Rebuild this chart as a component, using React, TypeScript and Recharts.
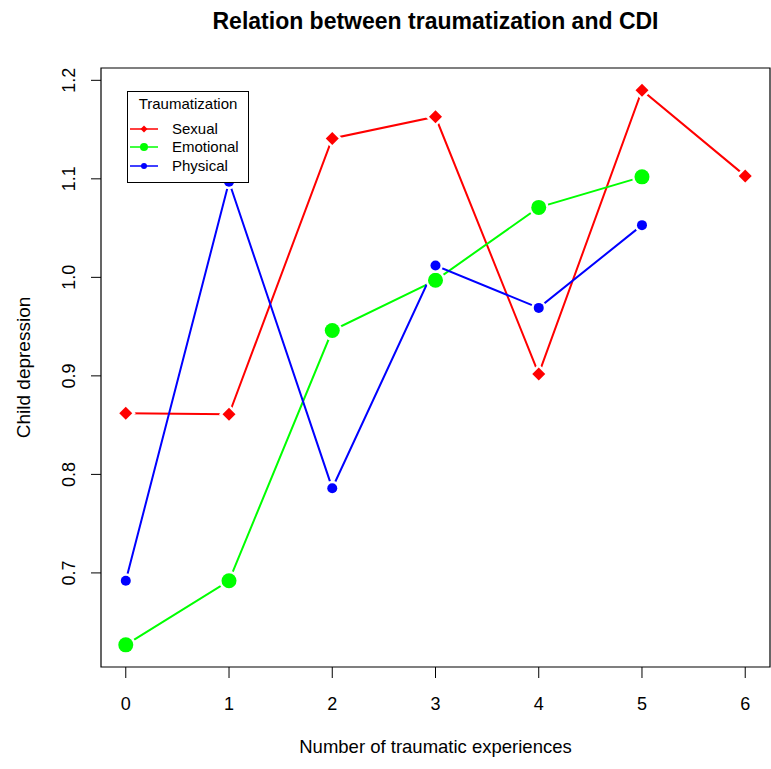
import React from 'react'
import { LineChart, Line, XAxis, YAxis, ReferenceArea, Legend } from 'recharts'

const experiences = [0, 1, 2, 3, 4, 5, 6]
const sexual = [0.862, 0.861, 1.141, 1.163, 0.902, 1.19, 1.103]
const emotional = [0.627, 0.692, 0.946, 0.997, 1.071, 1.102]
const physical = [0.692, 1.097, 0.786, 1.012, 0.969, 1.053]
const yTicks = [0.7, 0.8, 0.9, 1.0, 1.1, 1.2]

const data = experiences.map((x, i) => ({
  x,
  sexual: sexual[i],
  emotional: emotional[i],
  physical: physical[i],
}))

const FONT = '"Liberation Sans", Arial, Helvetica, sans-serif'
const RED = '#ff0000'
const GREEN = '#00ff00'
const BLUE = '#0000ff'

// eslint-disable-next-line @typescript-eslint/no-explicit-any
const diamond = (r: number, color: string) => (p: any) => {
  if (p.cx == null || p.cy == null || p.value == null) return <g key={p.key} />
  const { cx, cy } = p
  return (
    <path
      key={p.key}
      d={`M${cx},${cy - r} L${cx + r},${cy} L${cx},${cy + r} L${cx - r},${cy} Z`}
      fill={color}
      stroke="#fff"
      strokeWidth={5}
      paintOrder="stroke"
    />
  )
}

// eslint-disable-next-line @typescript-eslint/no-explicit-any
const circle = (r: number, color: string) => (p: any) => {
  if (p.cx == null || p.cy == null || p.value == null) return <g key={p.key} />
  return (
    <circle key={p.key} cx={p.cx} cy={p.cy} r={r} fill={color} stroke="#fff" strokeWidth={5} paintOrder="stroke" />
  )
}

// eslint-disable-next-line @typescript-eslint/no-explicit-any
const YTick = (p: any) => (
  <text
    x={p.x - 14}
    y={p.y}
    transform={`rotate(-90, ${p.x - 14}, ${p.y})`}
    textAnchor="middle"
    fontSize={18}
    fontFamily={FONT}
    fill="#000"
  >
    {p.payload.value.toFixed(1)}
  </text>
)

// eslint-disable-next-line @typescript-eslint/no-explicit-any
const XTick = (p: any) => (
  <text x={p.x} y={p.y + 30} textAnchor="middle" fontSize={18} fontFamily={FONT} fill="#000">
    {p.payload.value}
  </text>
)

const legendItems = [
  { name: 'Sexual', color: RED, marker: 'diamond', r: 3.5 },
  { name: 'Emotional', color: GREEN, marker: 'circle', r: 4 },
  { name: 'Physical', color: BLUE, marker: 'circle', r: 3 },
]

const LegendBox = () => (
  <div
    style={{
      border: '1px solid #000',
      width: 120,
      height: 90,
      background: '#fff',
      fontFamily: FONT,
      fontSize: 15,
      lineHeight: '18.5px',
    }}
  >
    <div style={{ textAlign: 'center', marginTop: 3, marginBottom: 6, fontSize: 15 }}>Traumatization</div>
    {legendItems.map((it) => (
      <div key={it.name} style={{ display: 'flex', alignItems: 'center' }}>
        <svg width={44} height={18} style={{ flex: 'none' }}>
          <line x1={2} x2={30} y1={9} y2={9} stroke={it.color} strokeWidth={1.5} />
          {it.marker === 'diamond' ? (
            <path d={`M16,${9 - it.r} L${16 + it.r},9 L16,${9 + it.r} L${16 - it.r},9 Z`} fill={it.color} />
          ) : (
            <circle cx={16} cy={9} r={it.r} fill={it.color} />
          )}
        </svg>
        <span>{it.name}</span>
      </div>
    ))}
  </div>
)

export default function App() {
  return (
    <div style={{ position: 'absolute', left: 0, top: 0, width: 771, height: 769, background: '#fff' }}>
      <div
        style={{
          position: 'absolute',
          left: 101,
          width: 669,
          top: 8,
          textAlign: 'center',
          fontFamily: FONT,
          fontWeight: 'bold',
          fontSize: 23,
        }}
      >
        Relation between traumatization and CDI
      </div>
      <LineChart width={771} height={769} data={data} margin={{ top: 68, right: 1, bottom: 2, left: 41 }}>
        <XAxis
          dataKey="x"
          type="number"
          domain={[-0.24, 6.24]}
          ticks={experiences}
          axisLine={false}
          tickLine={{ stroke: '#000' }}
          tickSize={11}
          tick={<XTick />}
          height={100}
          label={{
            value: 'Number of traumatic experiences',
            position: 'insideBottom',
            offset: 14,
            fontSize: 18.5,
            fontFamily: FONT,
            fill: '#000',
          }}
        />
        <YAxis
          type="number"
          domain={[0.6045, 1.2125]}
          ticks={yTicks}
          axisLine={false}
          tickLine={{ stroke: '#000' }}
          tickSize={10}
          tick={<YTick />}
          width={60}
          label={{
            value: 'Child depression',
            angle: -90,
            position: 'insideLeft',
            offset: -18,
            style: { textAnchor: 'middle' },
            fontSize: 19,
            fontFamily: FONT,
            fill: '#000',
          }}
        />
        <ReferenceArea x1={-0.24} x2={6.24} y1={0.6045} y2={1.2125} fill="none" stroke="#000" strokeWidth={1.2} />
        <Line dataKey="sexual" stroke={RED} strokeWidth={2} dot={diamond(6.5, RED)} activeDot={false} isAnimationActive={false} />
        <Line dataKey="emotional" stroke={GREEN} strokeWidth={2} dot={circle(7.5, GREEN)} activeDot={false} isAnimationActive={false} />
        <Line dataKey="physical" stroke={BLUE} strokeWidth={2} dot={circle(5, BLUE)} activeDot={false} isAnimationActive={false} />
        <Legend
          content={<LegendBox />}
          layout="vertical"
          verticalAlign="middle"
          align="center"
          wrapperStyle={{ left: 127, top: 91, width: 122 }}
        />
      </LineChart>
    </div>
  )
}
